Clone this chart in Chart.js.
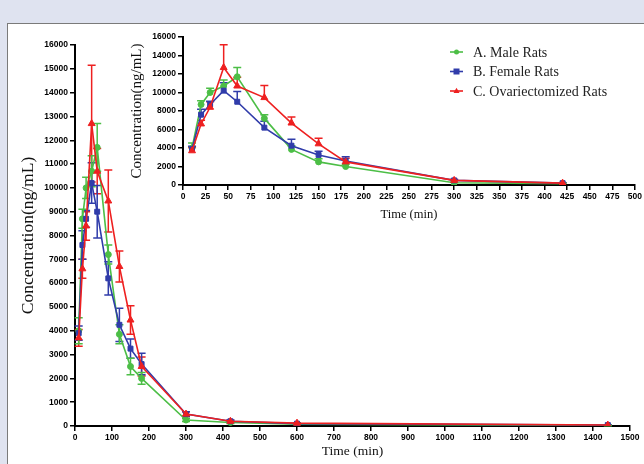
<!DOCTYPE html>
<html><head><meta charset="utf-8">
<script src="https://cdn.jsdelivr.net/npm/chart.js@4/dist/chart.umd.min.js"></script>
<style>
html,body{margin:0;padding:0;}
body{width:644px;height:464px;background:#dfe3f0;position:relative;overflow:hidden;}
#panel{position:absolute;left:7px;top:23px;width:660px;height:460px;background:#fff;border:1px solid #7a7a7a;box-sizing:border-box;}
#main{position:absolute;left:0;top:0;}
#inset{position:absolute;left:100px;top:25px;}
</style></head><body>
<div id="panel"></div>
<canvas id="main" width="644" height="464"></canvas>
<canvas id="inset" width="544" height="205"></canvas>
<script>
// ---- data ----
const times      = [10, 20, 30, 45, 60, 90, 120, 150, 180, 300, 420, 600, 1440];
const maleConc   = [4000, 8700, 10000, 10700, 11700, 7200, 3850, 2500, 2000, 250, 150, 80, 20];
const maleErr    = [550, 400, 450, 650, 1000, 400, 400, 350, 250, 60, 40, 20, 10];
const femaleConc = [3900, 7600, 8700, 10200, 9000, 6200, 4250, 3250, 2600, 500, 200, 100, 40];
const femaleErr  = [300, 600, 350, 850, 1100, 700, 700, 400, 450, 100, 50, 30, 10];
const ovxConc    = [3700, 6600, 8400, 12700, 10700, 9450, 6700, 4450, 2500, 500, 200, 120, 40];
const ovxErr     = [350, 400, 600, 2450, 950, 1300, 650, 600, 400, 100, 40, 20, 10];
const seriesNames = ['A. Male Rats', 'B. Female Rats', 'C. Ovariectomized Rats'];
const insetCount = 11; // inset shows points up to 420 min

const GREEN = 'rgb(76,190,70)', BLUE = 'rgb(48,60,170)', RED = 'rgb(238,32,32)';
const tickFont = {family: 'Liberation Sans', weight: 'bold', size: 8.5};
const serif = 'Liberation Serif';

function mkData(conc, n) { return times.slice(0, n).map((t, i) => ({x: t, y: conc[i]})); }

function datasets(n) {
  return [
    {label: seriesNames[0], data: mkData(maleConc, n), errors: maleErr.slice(0, n), borderColor: GREEN, backgroundColor: GREEN,
     pointStyle: 'circle', pointRadius: 3, borderWidth: 1.6, order: 3},
    {label: seriesNames[1], data: mkData(femaleConc, n), errors: femaleErr.slice(0, n), borderColor: BLUE, backgroundColor: BLUE,
     pointStyle: 'rect', pointRadius: 3.5, borderWidth: 1.6, order: 2},
    {label: seriesNames[2], data: mkData(ovxConc, n), errors: ovxErr.slice(0, n), borderColor: RED, backgroundColor: RED,
     pointStyle: 'triangle', pointRadius: 4, borderWidth: 1.6, order: 1}
  ].map(d => Object.assign(d, {tension: 0, pointBorderWidth: 1, fill: false}));
}

const errorBars = {
  id: 'errorBars',
  beforeDatasetsDraw(chart, args, opts) {
    const {ctx} = chart;
    const xs = chart.scales.x, ys = chart.scales.y;
    ctx.save();
    chart.data.datasets.slice().reverse().forEach(ds => {
      if (!ds.errors) return;
      ctx.strokeStyle = ds.borderColor;
      ctx.lineWidth = 1.5;
      ds.data.forEach((pt, i) => {
        const e = ds.errors[i];
        const px = xs.getPixelForValue(pt.x);
        const yTop = ys.getPixelForValue(pt.y + e);
        const yBot = opts.both ? ys.getPixelForValue(Math.max(0, pt.y - e)) : ys.getPixelForValue(pt.y);
        const w = opts.cap;
        ctx.beginPath();
        ctx.moveTo(px, yTop); ctx.lineTo(px, yBot);
        ctx.moveTo(px - w, yTop); ctx.lineTo(px + w, yTop);
        if (opts.both) { ctx.moveTo(px - w, yBot); ctx.lineTo(px + w, yBot); }
        ctx.stroke();
      });
    });
    ctx.restore();
  }
};

function drawMarker(ctx, style, x, y, r, color) {
  ctx.fillStyle = color;
  ctx.beginPath();
  if (style === 'circle') { ctx.arc(x, y, r, 0, Math.PI * 2); }
  else if (style === 'rect') { ctx.rect(x - r, y - r, 2 * r, 2 * r); }
  else { ctx.moveTo(x, y - r * 1.1); ctx.lineTo(x + r, y + r * 0.7); ctx.lineTo(x - r, y + r * 0.7); ctx.closePath(); }
  ctx.fill();
}

const customLegend = {
  id: 'customLegend',
  afterDraw(chart, args, opts) {
    const {ctx} = chart;
    ctx.save();
    ctx.font = '14px ' + serif;
    ctx.textBaseline = 'middle';
    chart.data.datasets.forEach((ds, i) => {
      const y = opts.y + i * opts.gap;
      ctx.strokeStyle = ds.borderColor;
      ctx.lineWidth = 1.6;
      ctx.beginPath(); ctx.moveTo(opts.x, y); ctx.lineTo(opts.x + 13, y); ctx.stroke();
      drawMarker(ctx, ds.pointStyle, opts.x + 6.5, y, ds.pointStyle === 'circle' ? 2.5 : 3, ds.borderColor);
      ctx.fillStyle = '#222';
      ctx.fillText(ds.label, opts.x + 23, y + 1);
    });
    ctx.restore();
  }
};

function axis(min, max, step, titleText, titleFont, titlePad, fitFn) {
  return {
    type: 'linear', min: min, max: max,
    ticks: {stepSize: step, font: tickFont, color: '#000', padding: 2, maxRotation: 0, autoSkip: false,
            callback: v => String(v)},
    grid: {drawOnChartArea: false, drawTicks: true, tickLength: 5, color: '#000', tickColor: '#000', lineWidth: 1.5},
    border: {display: true, color: '#000', width: 2},
    title: {display: true, text: titleText, font: {family: serif, size: titleFont}, color: '#111', padding: titlePad},
    afterFit: fitFn
  };
}

new Chart(document.getElementById('main'), {
  type: 'line',
  data: {datasets: datasets(times.length)},
  options: {
    responsive: false, animation: false, devicePixelRatio: 1,
    layout: {padding: {top: 45, right: 14, left: 0, bottom: 0}},
    plugins: {legend: {display: false}, tooltip: {enabled: false}, errorBars: {both: true, cap: 4}},
    scales: {
      x: axis(0, 1500, 100, 'Time (min)', 13.5, {top: 0, bottom: 4}, s => { s.height = 38; }),
      y: axis(0, 16000, 1000, 'Concentration(ng/mL)', 17.5, {top: 18, bottom: 0}, s => { s.width = 75; })
    }
  },
  plugins: [errorBars]
});

new Chart(document.getElementById('inset'), {
  type: 'line',
  data: {datasets: datasets(insetCount)},
  options: {
    responsive: false, animation: false, devicePixelRatio: 1,
    layout: {padding: {top: 12, right: 8, left: 0, bottom: 0}},
    plugins: {legend: {display: false}, tooltip: {enabled: false}, errorBars: {both: false, cap: 4},
              customLegend: {x: 350, y: 27, gap: 19.5}},
    scales: {
      x: axis(0, 500, 25, 'Time (min)', 12.5, {top: 0, bottom: 7.5}, s => { s.height = 45; }),
      y: axis(0, 16000, 2000, 'Concentration(ng/mL)', 15, {top: 28, bottom: 0}, s => { s.width = 83; })
    }
  },
  plugins: [errorBars, customLegend]
});
</script>
</body></html>
